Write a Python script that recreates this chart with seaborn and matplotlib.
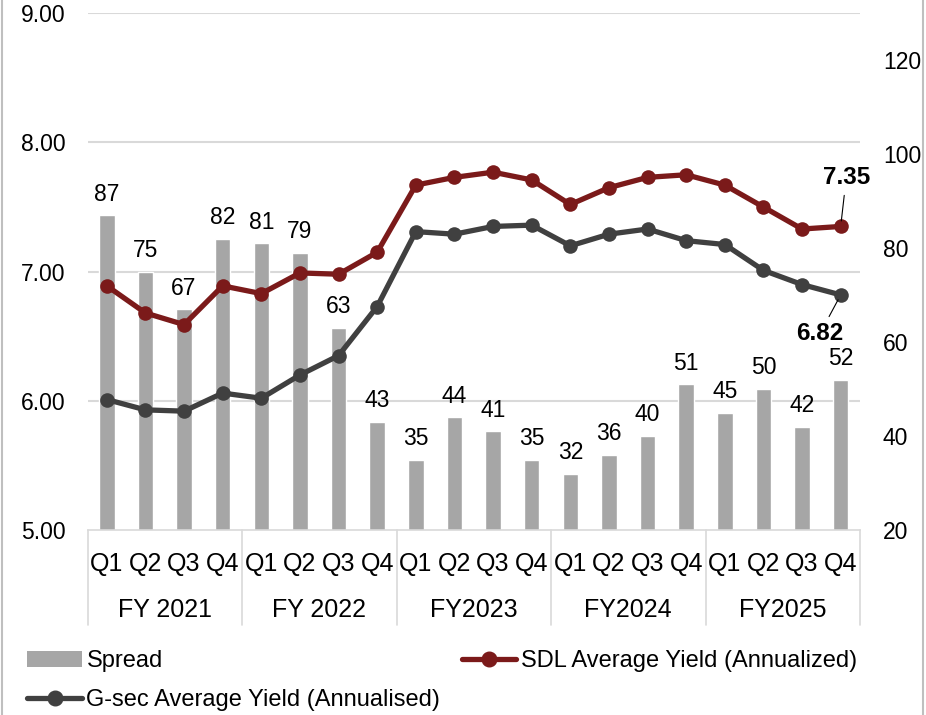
import seaborn as sns
import matplotlib.pyplot as plt
import matplotlib.transforms as mtrans
from matplotlib.patches import Patch, Rectangle
from matplotlib.lines import Line2D
import numpy as np

quarters = ['Q1', 'Q2', 'Q3', 'Q4'] * 5
years = ['FY 2021', 'FY 2022', 'FY2023', 'FY2024', 'FY2025']

spread = [87, 75, 67, 82, 81, 79, 63, 43, 35, 44, 41, 35, 32, 36, 40, 51, 45, 50, 42, 52]
sdl = [6.89, 6.68, 6.59, 6.89, 6.83, 6.99, 6.98, 7.15, 7.67, 7.73, 7.77, 7.71,
       7.52, 7.65, 7.73, 7.75, 7.67, 7.50, 7.33, 7.35]
gsec = [6.01, 5.93, 5.92, 6.06, 6.02, 6.20, 6.35, 6.73, 7.31, 7.29, 7.35, 7.36,
        7.20, 7.29, 7.33, 7.24, 7.21, 7.01, 6.90, 6.82]

sns.set_style('white')
plt.rcParams['font.family'] = ['Liberation Sans', 'DejaVu Sans']
plt.rcParams['text.color'] = 'black'
plt.rcParams['xtick.color'] = 'black'
plt.rcParams['ytick.color'] = 'black'
fs = 16.5
fs_cat = 18

c_bar = '#A6A6A6'
c_sdl = '#7B1A1A'
c_gsec = '#404040'
c_grid = '#D9D9D9'

W, H = 926, 715
fig = plt.figure(figsize=(W / 100, H / 100), dpi=100)
ax = fig.add_axes([87.5 / W, (H - 530) / H, (860 - 87.5) / W, (530 - 13.3) / H])

idx = np.arange(len(spread))

# bars on the right-hand scale
sns.barplot(x=idx, y=spread, ax=ax, color=c_bar, width=0.4, saturation=1, native_scale=True)
ax.set_xlim(-0.5, len(spread) - 0.5)
ax.set_ylim(20, 130)
ax.bar_label(ax.containers[0], labels=[str(v) for v in spread], padding=7, fontsize=fs)

# gridlines at the left-scale ticks, kept behind the bars
lo, hi = 5, 9
left_ticks = np.arange(lo, hi + 0.1, 1.0)
grid_pos = 20 + (left_ticks - lo) / (hi - lo) * (130 - 20)
ax.set_yticks(grid_pos, minor=True)
ax.grid(which='minor', axis='y', color=c_grid, lw=1.5)
ax.grid(which='major', axis='y', visible=False)
ax.set_axisbelow(True)

for s in ['top', 'left', 'right']:
    ax.spines[s].set_visible(False)
ax.spines['bottom'].set_color(c_grid)
ax.spines['bottom'].set_linewidth(1.2)

ax.set_xticks(idx)
ax.set_xticklabels(quarters, fontsize=fs_cat)
ax.tick_params(axis='x', length=0, pad=16)
ax.set_xlabel('')
ax.set_ylabel('')

# two-level category axis
tr = mtrans.blended_transform_factory(ax.transData, ax.transAxes)
for g in range(len(years) + 1):
    xg = g * 4 - 0.5
    ax.plot([xg, xg], [0, -0.184], transform=tr, color=c_grid, lw=1.2, clip_on=False)
for g, yr in enumerate(years):
    ax.text(g * 4 + 1.5, -0.155, yr, transform=tr, ha='center', va='center', fontsize=fs_cat)

# yields on the left-hand scale
ax2 = ax.twinx()
sns.lineplot(x=idx, y=sdl, ax=ax2, color=c_sdl, lw=3.8, marker='o', markersize=10.5,
             markeredgewidth=0)
sns.lineplot(x=idx, y=gsec, ax=ax2, color=c_gsec, lw=3.8, marker='o', markersize=10.5,
             markeredgewidth=0)
ax2.set_ylim(lo, hi)
ax2.set_yticks(left_ticks)
ax2.set_yticklabels([f'{v:.2f}' for v in left_ticks])
ax2.yaxis.tick_left()
ax2.tick_params(axis='y', labelsize=fs, length=0, pad=16)
for s in ax2.spines.values():
    s.set_visible(False)
ax2.grid(False)

# right-hand ticks for the spread (after twinx, which resets them)
ax.yaxis.tick_right()
ax.set_yticks(range(20, 121, 20))
ax.tick_params(axis='y', which='major', labelsize=fs, length=0, pad=16.5)
ax.tick_params(axis='y', which='minor', length=0)

ax2.annotate(f'{sdl[-1]:.2f}', xy=(idx[-1], sdl[-1]), xytext=(4, 35), textcoords='offset points',
             ha='center', va='center', fontsize=fs + 1, fontweight='bold',
             arrowprops=dict(arrowstyle='-', color='black', lw=0.8, shrinkA=2, shrinkB=4))
ax2.annotate(f'{gsec[-1]:.2f}', xy=(idx[-1], gsec[-1]), xytext=(-15, -28), textcoords='offset points',
             ha='center', va='center', fontsize=fs + 1, fontweight='bold',
             arrowprops=dict(arrowstyle='-', color='black', lw=0.8, shrinkA=2, shrinkB=4))

handles = [
    Patch(facecolor=c_bar, edgecolor='none', label='Spread'),
    Line2D([], [], color=c_gsec, lw=3.8, marker='o', markersize=10.5, label='G-sec Average Yield (Annualised)'),
    Line2D([], [], color=c_sdl, lw=3.8, marker='o', markersize=10.5, label='SDL Average Yield (Annualized)'),
]
fig.legend(handles=handles, ncol=2, loc='upper left', bbox_to_anchor=(18 / W, 1 - 641 / H),
           frameon=False, fontsize=17, handlelength=2.3, handletextpad=0.2,
           columnspacing=0.9, labelspacing=0.7, borderaxespad=0)

# outer chart border
fig.patches.append(Rectangle((2 / W, -0.01), (921 / W), 1.02, transform=fig.transFigure,
                             fill=False, edgecolor='#BFBFBF', lw=1.5))

fig.savefig('out.png', dpi=100)
